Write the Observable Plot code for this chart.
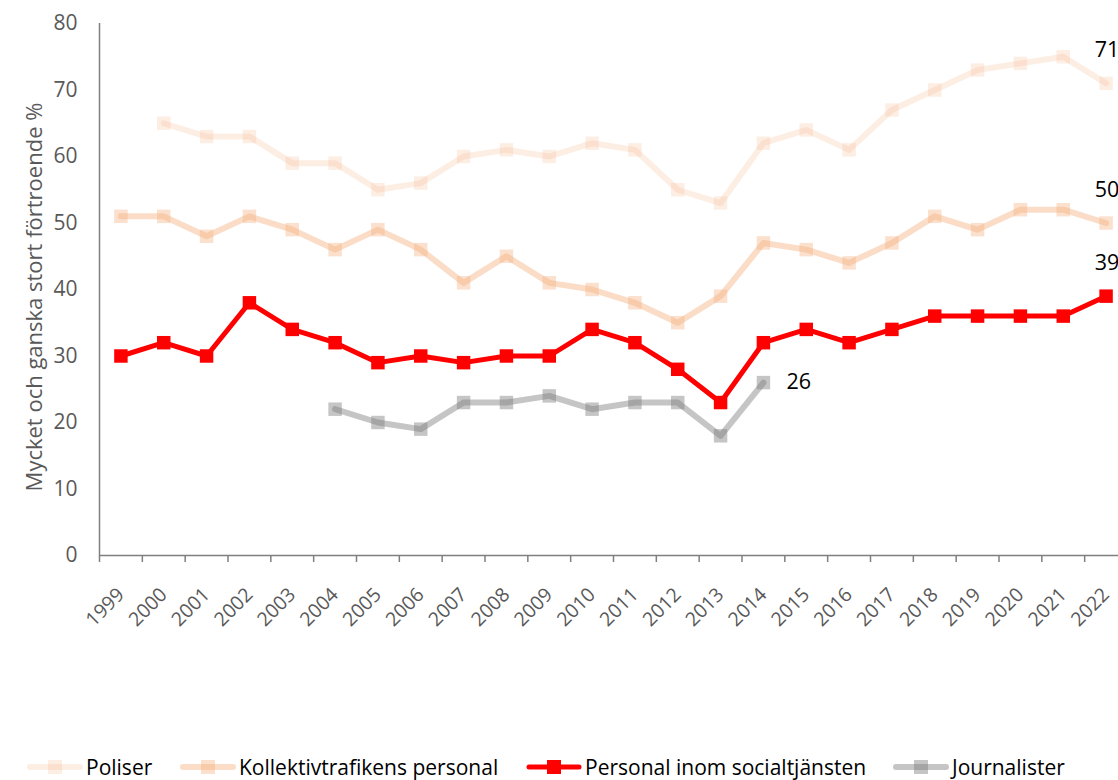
<!DOCTYPE html>
<html>
<head>
<meta charset="utf-8">
<script src="https://cdn.jsdelivr.net/npm/d3@7"></script>
<script src="https://cdn.jsdelivr.net/npm/@observablehq/plot@0.6"></script>
<style>
  html, body { margin: 0; padding: 0; background: #fff; }
  #wrap { position: relative; width: 1118px; height: 780px; overflow: hidden; font-family: "Open Sans", Lato, sans-serif; }
  #ytitle { position: absolute; left: 33px; top: 297px; transform: translate(-50%, -50%) rotate(-90deg); white-space: nowrap; font-size: 22px; color: #595959; }
  #legend { position: absolute; left: 0; top: 753px; width: 1118px; height: 28px; }
  .item { position: absolute; top: 0; height: 28px; display: flex; align-items: center; font-size: 21px; color: #000; white-space: nowrap; }
  .item svg { margin-right: 3px; }
</style>
</head>
<body>
<div id="wrap"><div id="chart"></div><div id="ytitle"></div><div id="legend"></div></div>
<script>
const years = [1999,2000,2001,2002,2003,2004,2005,2006,2007,2008,2009,2010,2011,2012,2013,2014,2015,2016,2017,2018,2019,2020,2021,2022];
const poliser = [null,65,63,63,59,59,55,56,60,61,60,62,61,55,53,62,64,61,67,70,73,74,75,71];
const kollektiv = [51,51,48,51,49,46,49,46,41,45,41,40,38,35,39,47,46,44,47,51,49,52,52,50];
const social = [30,32,30,38,34,32,29,30,29,30,30,34,32,28,23,32,34,32,34,36,36,36,36,39];
const journalister = [null,null,null,null,null,22,20,19,23,23,24,22,23,23,18,26,null,null,null,null,null,null,null,null];
const yTicks = [0,10,20,30,40,50,60,70,80];
const seriesNames = ["Poliser","Kollektivtrafikens personal","Personal inom socialtjänsten","Journalister"];
const yTitle = "Mycket och ganska stort förtroende %";

const styles = [
  {name: seriesNames[0], values: poliser, color: "#F4B183", lineOp: 0.22, dotOp: 0.22, width: 6, legendX: 27},
  {name: seriesNames[1], values: kollektiv, color: "#F4B183", lineOp: 0.45, dotOp: 0.4, width: 6, legendX: 180},
  {name: seriesNames[2], values: social, color: "#FF0000", lineOp: 1, dotOp: 1, width: 5, legendX: 526},
  {name: seriesNames[3], values: journalister, color: "#7F7F7F", lineOp: 0.45, dotOp: 0.45, width: 6, legendX: 893}
];

const rows = s => years.map((yr, i) => ({year: yr, value: s.values[i]})).filter(d => d.value != null);
const boundaries = years.map(y => y - 0.5).concat([years[years.length - 1] + 0.5]);

const marks = [];
marks.push(Plot.axisY(yTicks, {tickSize: 0, tickPadding: 22, fontSize: 21, fill: "#595959", label: null}));
marks.push(Plot.axisX(boundaries, {tickSize: 7, tickFormat: () => "", stroke: "#7f7f7f", strokeWidth: 1.5, label: null}));
marks.push(Plot.axisX(years, {tickSize: 0, tickRotate: -45, tickPadding: 36, dx: 0, fontSize: 19.5, fill: "#595959", tickFormat: d => String(d), label: null}));
marks.push(Plot.ruleY([0], {stroke: "#7f7f7f", strokeWidth: 1.5}));
marks.push(Plot.ruleX([boundaries[0]], {y1: 0, y2: 80, stroke: "#7f7f7f", strokeWidth: 1.5}));

for (const s of styles) {
  const data = rows(s);
  marks.push(Plot.line(data, {x: "year", y: "value", stroke: s.color, strokeWidth: s.width, strokeOpacity: s.lineOp, strokeLinejoin: "round", strokeLinecap: "round"}));
  marks.push(Plot.dot(data, {x: "year", y: "value", symbol: "square", r: 7.6, fill: s.color, fillOpacity: s.dotOp, stroke: "none"}));
}

const last = arr => { const d = years.map((yr,i)=>({year: yr, value: arr[i]})).filter(d=>d.value!=null); return d[d.length-1]; };
marks.push(Plot.text([last(poliser), last(kollektiv), last(social)], {x: "year", y: "value", text: d => String(d.value), dy: -33, dx: 1, fontSize: 21.5, fill: "#000"}));
marks.push(Plot.text([last(journalister)], {x: "year", y: "value", text: d => String(d.value), dx: 23, textAnchor: "start", fontSize: 21.5, fill: "#000"}));

const chart = Plot.plot({
  width: 1118,
  height: 750,
  marginTop: 23,
  marginBottom: 195,
  marginLeft: 99,
  marginRight: 0,
  style: {fontFamily: "'Open Sans', Lato, sans-serif", background: "#fff", overflow: "hidden"},
  x: {domain: [boundaries[0], boundaries[boundaries.length-1]], range: [99, 1127], axis: null},
  y: {domain: [0, 80], range: [555, 23], axis: null},
  marks
});
document.getElementById("chart").appendChild(chart);
document.getElementById("ytitle").textContent = yTitle;

const legend = document.getElementById("legend");
for (const s of styles) {
  const item = document.createElement("div");
  item.className = "item";
  item.style.left = s.legendX + "px";
  const ns = "http://www.w3.org/2000/svg";
  const sw = document.createElementNS(ns, "svg");
  sw.setAttribute("width", 56); sw.setAttribute("height", 16);
  const ln = document.createElementNS(ns, "line");
  ln.setAttribute("x1", 3); ln.setAttribute("x2", 53); ln.setAttribute("y1", 8); ln.setAttribute("y2", 8);
  ln.setAttribute("stroke", s.color); ln.setAttribute("stroke-width", s.width); ln.setAttribute("stroke-opacity", s.lineOp); ln.setAttribute("stroke-linecap", "round");
  const rc = document.createElementNS(ns, "rect");
  rc.setAttribute("x", 21); rc.setAttribute("y", 1); rc.setAttribute("width", 14); rc.setAttribute("height", 14);
  rc.setAttribute("fill", s.color); rc.setAttribute("fill-opacity", s.dotOp);
  sw.appendChild(ln); sw.appendChild(rc);
  const tx = document.createElement("span");
  tx.textContent = s.name;
  item.appendChild(sw); item.appendChild(tx);
  legend.appendChild(item);
}
</script>
</body>
</html>
